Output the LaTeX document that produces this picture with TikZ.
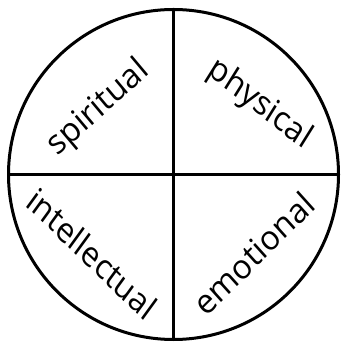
\documentclass[tikz,border=0pt]{standalone}
\usepackage{fontspec}
\setmainfont{Open Sans}
\usetikzlibrary{calc}
\tikzset{wheel/.style={circle,draw=black,line width=3pt,minimum size=330pt,inner sep=0pt}, divider/.style={draw=black,line width=3pt}, part/.style={font=\fontsize{33}{33}\selectfont,inner sep=0pt,anchor=center}}

\begin{document}
\begin{tikzpicture}[x=1pt,y=1pt]
\useasboundingbox (0,0) rectangle (341,342);
\node[wheel] (wheel) at (173.5,167.5) {};
\draw[divider] (wheel.north)--(wheel.south);\draw[divider] (wheel.west)--(wheel.east);
\node[part,cm={0.743,0.669,-0.643,0.766,(0,0)}] (spiritual) at ($(wheel.center)+(-75,66)$) {spiritual};\node[part,cm={0.788,-0.616,0.530,0.848,(0,0)}] (physical) at ($(wheel.center)+(86,70)$) {physical};
\node[part,cm={0.719,-0.695,0.588,0.809,(0,0)}] (intellectual) at ($(wheel.center)+(-81,-79)$) {intellectual};\node[part,cm={0.707,0.707,-0.669,0.743,(0,0)}] (emotional) at ($(wheel.center)+(80,-79)$) {emotional};
\end{tikzpicture}
\end{document}
